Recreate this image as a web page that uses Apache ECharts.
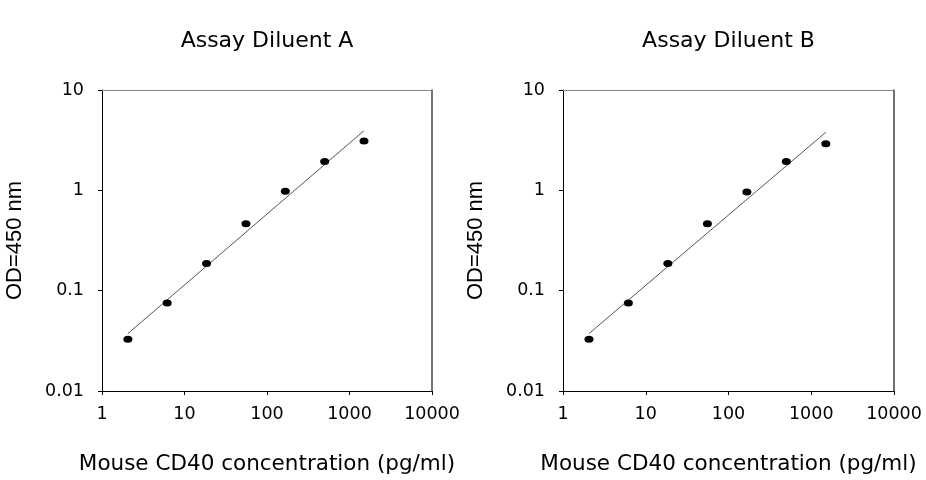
<!DOCTYPE html>
<html>
<head>
<meta charset="utf-8">
<script src="https://cdn.jsdelivr.net/npm/echarts@6/dist/echarts.min.js"></script>
<style>
html,body{margin:0;padding:0;background:#fff;}
#c{width:926px;height:480px;}
</style>
</head>
<body>
<div id="c"></div>
<script>
// ---- data ----
const titles = ['Assay Diluent A', 'Assay Diluent B'];
const concA = [2.06, 6.17, 18.5, 55.6, 166.7, 500, 1500];
const odA = [0.0327, 0.0755, 0.187, 0.465, 0.978, 1.94, 3.10];
const concB = [2.06, 6.17, 18.5, 55.6, 166.7, 500, 1500];
const odB = [0.0327, 0.0755, 0.187, 0.465, 0.964, 1.94, 2.92];
const fitX = [2.06, 1500];
const fitA = [0.0373, 3.93];
const fitB = [0.0373, 3.79];
const xTicks = [1, 10, 100, 1000, 10000];
const yTicks = [0.01, 0.1, 1, 10];
const xName = 'Mouse CD40 concentration (pg/ml)';
const yName = 'OD=450 nm';

const chart = echarts.init(document.getElementById('c'), null, {renderer: 'canvas'});
const HF = 'DejaVu Sans';
const fmt = v => {
  const all = xTicks.concat(yTicks);
  let best = v;
  all.forEach(t => { if (Math.abs(Math.log10(t) - Math.log10(v)) < 1e-6) best = t; });
  return String(best);
};
const grids = [
  {left: 102, top: 90, width: 330, height: 303},
  {left: 563, top: 90, width: 331, height: 303}
];
const xAxes = [], yAxes = [], series = [], titleArr = [];
[0, 1].forEach(i => {
  xAxes.push({
    type: 'log', logBase: 10, gridIndex: i, min: xTicks[0], max: xTicks[xTicks.length - 1], splitNumber: 4,
    name: xName, nameLocation: 'middle', nameGap: 62,
    nameTextStyle: {fontFamily: HF, fontSize: 21.5, color: '#000'},
    axisLine: {show: true, onZero: false, lineStyle: {color: '#000', width: 1}},
    axisTick: {show: true, inside: false, length: 4, lineStyle: {color: '#000'}},
    minorTick: {show: false},
    axisLabel: {formatter: fmt, fontFamily: HF, fontSize: 17.5, color: '#000', margin: 14, showMinLabel: true, showMaxLabel: true},
    splitLine: {show: false}
  });
  yAxes.push({
    type: 'log', logBase: 10, gridIndex: i, min: yTicks[0], max: yTicks[yTicks.length - 1], splitNumber: 3,
    name: yName, nameLocation: 'middle', nameGap: 76, nameRotate: 90,
    nameTextStyle: {fontFamily: 'Liberation Sans', fontSize: 22, color: '#000'},
    axisLine: {show: true, onZero: false, lineStyle: {color: '#000', width: 1}},
    axisTick: {show: true, inside: false, length: 4, lineStyle: {color: '#000'}},
    axisLabel: {formatter: fmt, fontFamily: HF, fontSize: 17.5, color: '#000', margin: 18, showMinLabel: true, showMaxLabel: true},
    splitLine: {show: false}
  });
  titleArr.push({
    text: titles[i], left: grids[i].left + grids[i].width / 2 - 5, top: 25, textAlign: 'center',
    textStyle: {fontFamily: HF, fontSize: 22, fontWeight: 'normal', color: '#000'}
  });
});
// frame: top and right edges
[0, 1].forEach(i => {
  xAxes.push({
    type: 'value', gridIndex: i, position: 'top', min: 0, max: 1,
    axisLine: {show: true, onZero: false, lineStyle: {color: '#888', width: 1}},
    axisTick: {show: false}, axisLabel: {show: false}, splitLine: {show: false}
  });
  yAxes.push({
    type: 'value', gridIndex: i, position: 'right', min: 0, max: 1,
    axisLine: {show: true, onZero: false, lineStyle: {color: '#444', width: 1.5}},
    axisTick: {show: false}, axisLabel: {show: false}, splitLine: {show: false}
  });
});
const sets = [[concA, odA, fitA], [concB, odB, fitB]];
sets.forEach((s, i) => {
  series.push({
    type: 'line', xAxisIndex: i, yAxisIndex: i, silent: true, symbol: 'none',
    lineStyle: {color: '#555', width: 1},
    data: fitX.map((x, k) => [x, s[2][k]]), z: 2
  });
  series.push({
    type: 'scatter', xAxisIndex: i, yAxisIndex: i, symbol: 'circle', symbolSize: [9, 7],
    itemStyle: {color: '#000', opacity: 1},
    data: s[0].map((x, k) => [x, s[1][k]]), z: 3
  });
});
chart.setOption({
  animation: false,
  backgroundColor: '#fff',
  title: titleArr,
  grid: grids,
  xAxis: xAxes,
  yAxis: yAxes,
  series: series
});
</script>
</body>
</html>
